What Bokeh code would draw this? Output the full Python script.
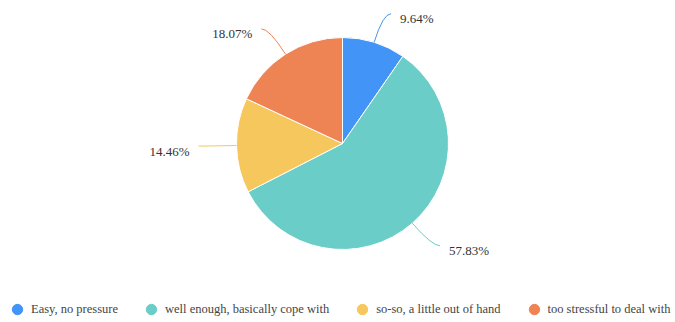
import math
from bokeh.plotting import figure
from bokeh.models import ColumnDataSource, Range1d, Legend, LegendItem
from bokeh.core.properties import value
from bokeh.embed import file_html
from bokeh.resources import INLINE

categories = ["Easy, no pressure", "well enough, basically cope with",
              "so-so, a little out of hand", "too stressful to deal with"]
percents = [9.64, 57.83, 14.46, 18.07]
labels = ["9.64%", "57.83%", "14.46%", "18.07%"]
colors = ["#4394F7", "#6BCDC8", "#F5C75D", "#EE8354"]

W, H = 675, 322
CX, CY = 342, H - 143
R = 106
L1, L2, GAP = 30, 8, 9

total = sum(percents)
starts, ends, mids = [], [], []
cum = 0.0
for v in percents:
    f = v / total
    a0 = math.pi / 2 - 2 * math.pi * (cum + f)
    a1 = math.pi / 2 - 2 * math.pi * cum
    starts.append(a0)
    ends.append(a1)
    mids.append(math.pi / 2 - 2 * math.pi * (cum + f / 2))
    cum += f

p = figure(width=W, height=H, output_backend="svg", toolbar_location=None,
           x_range=Range1d(0, W), y_range=Range1d(0, H),
           x_axis_type=None, y_axis_type=None, min_border=0,
           outline_line_color=None, background_fill_color="white")
p.grid.visible = False

src = ColumnDataSource(dict(start=starts, end=ends, color=colors, cat=categories))
p.wedge(x=CX, y=CY, radius=R, start_angle="start", end_angle="end",
        fill_color="color", line_color="white", line_width=1, source=src)

# leader lines and labels
x0s, y0s, x1s, y1s, cxs, cys = [], [], [], [], [], []
tx, ty, ta = [], [], []
for m in mids:
    c, s = math.cos(m), math.sin(m)
    ex, ey = CX + R * c, CY + R * s
    kx, ky = CX + (R + L1) * c, CY + (R + L1) * s
    sign = 1 if c >= 0 else -1
    endx, endy = kx + sign * L2, ky
    x0s.append(ex); y0s.append(ey); x1s.append(endx); y1s.append(endy)
    cxs.append(kx); cys.append(ky)
    tx.append(endx + sign * GAP); ty.append(endy)
    ta.append("left" if sign > 0 else "right")

lsrc = ColumnDataSource(dict(x0=x0s, y0=y0s, x1=x1s, y1=y1s, cx=cxs, cy=cys, color=colors))
p.quadratic(x0="x0", y0="y0", x1="x1", y1="y1", cx="cx", cy="cy",
            line_color="color", line_width=1, source=lsrc)

tsrc = ColumnDataSource(dict(x=tx, y=ty, text=labels, align=ta))
p.text(x="x", y="y", text="text", text_align="align", text_baseline="middle",
       y_offset=5, text_font=value("Liberation Serif"), text_font_size="13px",
       text_color="#333333", source=tsrc)

# legend (markers placed off-frame so only the legend glyph shows)
items = []
for cat, col in zip(categories, colors):
    r = p.scatter(x=[-1000], y=[-1000], size=10, marker="circle",
                  fill_color=col, line_color=col)
    items.append(LegendItem(label=cat, renderers=[r]))

legend = Legend(items=items, orientation="horizontal", location=(4, 0),
                glyph_width=26, glyph_height=26, label_standoff=1, spacing=20,
                padding=0, margin=0, border_line_color=None,
                background_fill_alpha=0,
                label_text_font="Liberation Serif", label_text_font_size="12.5px",
                label_text_color="#444444")
p.add_layout(legend, "center")

open("out.html", "w").write(file_html(p, INLINE))
